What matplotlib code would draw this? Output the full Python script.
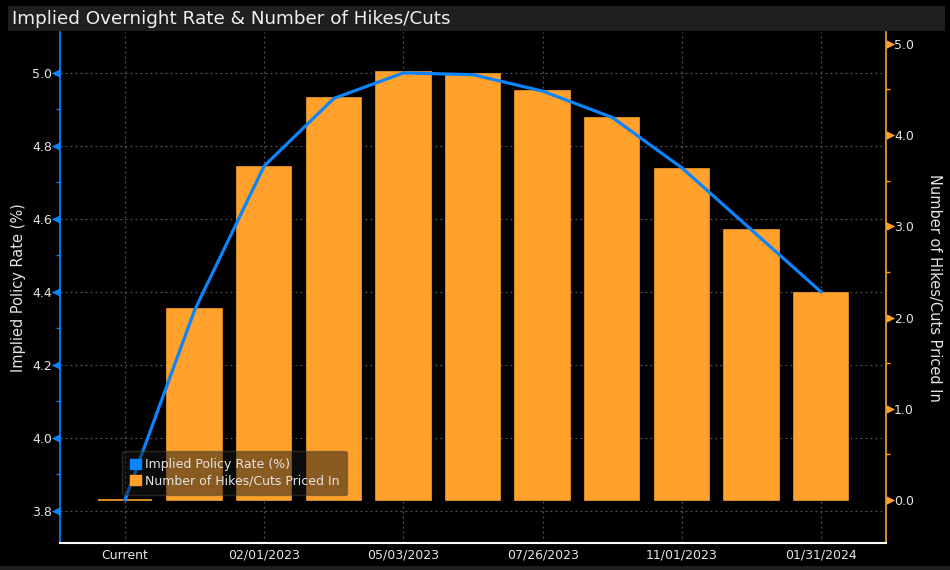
import numpy as np
import matplotlib
matplotlib.use("Agg")
import matplotlib.pyplot as plt
from matplotlib.patches import Patch, Rectangle
from matplotlib.path import Path

# ---------------- data ----------------
categories = ['Current', '12/14/2022', '02/01/2023', '03/22/2023', '05/03/2023',
              '06/14/2023', '07/26/2023', '09/20/2023', '11/01/2023',
              '12/13/2023', '01/31/2024']
implied_rate = [3.83, 4.35, 4.745, 4.93, 5.0, 4.995, 4.95, 4.878, 4.74, 4.57, 4.40]
hikes_cuts = [0.0, 2.09, 3.65, 4.41, 4.69, 4.67, 4.48, 4.19, 3.63, 2.96, 2.27]
rate_ticks = [3.8, 4.0, 4.2, 4.4, 4.6, 4.8, 5.0]
hike_ticks = [0.0, 1.0, 2.0, 3.0, 4.0, 5.0]

title = 'Implied Overnight Rate & Number of Hikes/Cuts'
rate_label = 'Implied Policy Rate (%)'
hike_label = 'Number of Hikes/Cuts Priced In'

BLUE = '#0a84ff'
ORANGE = '#ffa12b'
TXT = '#e4e4e4'
GRID = '#555555'

# filled triangle tick markers with their base on the axis line
TRI_LEFT = Path([(0, -0.5), (0, 0.5), (-1, 0), (0, -0.5)], closed=True)
TRI_RIGHT = Path([(0, -0.5), (0, 0.5), (1, 0), (0, -0.5)], closed=True)

plt.rcParams['font.family'] = ['DejaVu Sans']

fig = plt.figure(figsize=(9.5, 5.7), dpi=100, facecolor='black')
pos = [60 / 950, 1 - 543 / 570, (886 - 60) / 950, (543 - 32) / 570]

x = np.arange(len(categories))
xlim = (-0.934, len(categories) - 1 + 0.934)
rate_lim = (3.712, 5.112)
hike_lim = (-0.471, 5.129)

# grid axes (bottom layer)
axg = fig.add_axes(pos, facecolor='black')
axg.set_xlim(*xlim)
axg.set_ylim(*rate_lim)
axg.set_xticks(x[::2])
axg.set_yticks(rate_ticks)
axg.grid(True, color=GRID, linestyle=(0, (1.5, 2.5)), linewidth=0.9)
axg.tick_params(length=0, labelbottom=False, labelleft=False)
for s in axg.spines.values():
    s.set_visible(False)

# bars axes (middle layer, right scale)
axb = fig.add_axes(pos, sharex=axg)
axb.patch.set_visible(False)
axb.bar(x, hikes_cuts, width=0.78, color=ORANGE, edgecolor=ORANGE, linewidth=1.2)
axb.set_ylim(*hike_lim)
axb.yaxis.tick_right()
axb.yaxis.set_label_position('right')
axb.set_yticks(hike_ticks)
axb.set_yticklabels([f'{v:.1f}' for v in hike_ticks])
axb.set_yticks(np.arange(0.5, 5.0, 1.0), minor=True)
axb.tick_params(axis='y', which='major', colors=ORANGE, labelcolor=TXT,
                labelsize=9, length=5.5, pad=0.3)
axb.tick_params(axis='y', which='minor', colors=ORANGE, length=3, width=1)
for t in axb.yaxis.get_major_ticks():
    t.tick2line.set_marker(TRI_RIGHT)
    t.tick2line.set_markersize(12.5)
    t.tick2line.set_markeredgewidth(0)
    t.tick2line.set_markerfacecolor(ORANGE)
axb.tick_params(axis='x', length=0, labelbottom=False)
for k, s in axb.spines.items():
    s.set_visible(k == 'right')
axb.spines['right'].set_color(ORANGE)
axb.spines['right'].set_linewidth(1.2)
axb.set_ylabel(hike_label, color=TXT, fontsize=10.5, rotation=270, labelpad=0)
axb.yaxis.set_label_coords((942 - 60) / 826, 0.5)

# line axes (top layer, left scale)
axl = fig.add_axes(pos, sharex=axg, sharey=axg)
axl.patch.set_visible(False)
axl.plot(x, implied_rate, color=BLUE, linewidth=2.3, solid_joinstyle='miter')
axl.set_yticks(rate_ticks)
axl.set_yticklabels([f'{v:.1f}' for v in rate_ticks])
axl.set_yticks(np.arange(3.9, 5.0, 0.2), minor=True)
axl.tick_params(axis='y', which='major', colors=BLUE, labelcolor=TXT,
                labelsize=9, length=5.5, pad=0.3)
axl.tick_params(axis='y', which='minor', colors=BLUE, length=3, width=1)
for t in axl.yaxis.get_major_ticks():
    t.tick1line.set_marker(TRI_LEFT)
    t.tick1line.set_markersize(12.5)
    t.tick1line.set_markeredgewidth(0)
    t.tick1line.set_markerfacecolor(BLUE)
axl.set_xticks(x[::2])
axl.set_xticklabels(categories[::2])
axl.tick_params(axis='x', length=0, labelcolor=TXT, labelsize=9, pad=4)
for k, s in axl.spines.items():
    s.set_visible(k in ('left', 'bottom'))
axl.spines['left'].set_color(BLUE)
axl.spines['left'].set_linewidth(1.2)
axl.spines['bottom'].set_color('white')
axl.spines['bottom'].set_linewidth(1.5)
axl.set_ylabel(rate_label, color=TXT, fontsize=10.5, labelpad=0)
axl.yaxis.set_label_coords((26 - 60) / 826, 0.5)

handles = [Patch(facecolor=BLUE, edgecolor=BLUE), Patch(facecolor=ORANGE, edgecolor=ORANGE)]
leg = axl.legend(handles, [rate_label, hike_label], loc='lower left',
                 bbox_to_anchor=((122 - 60) / 826, (543 - 495) / 511),
                 borderaxespad=0, fontsize=9, frameon=True, fancybox=True,
                 facecolor='#161616', edgecolor='#4a4a3a', framealpha=0.5,
                 handlelength=0.9, handleheight=0.9, handletextpad=0.35,
                 labelspacing=0.25, borderpad=0.6, labelcolor=TXT)
leg.get_frame().set_linewidth(1.0)

# title bar and bottom strip
fig.patches.append(Rectangle((8 / 950, 1 - 31 / 570), (945 - 8) / 950, 25 / 570,
                             transform=fig.transFigure, facecolor='#1f1f1f',
                             edgecolor='none', zorder=0))
fig.patches.append(Rectangle((0, 0), 1, 4 / 570, transform=fig.transFigure,
                             facecolor='#1f1f1f', edgecolor='none', zorder=0))
fig.text(12 / 950, 1 - 18.5 / 570, title, color='#f0f0f0', fontsize=13.2,
         ha='left', va='center')

fig.savefig('out.png', dpi=100, facecolor='black')
